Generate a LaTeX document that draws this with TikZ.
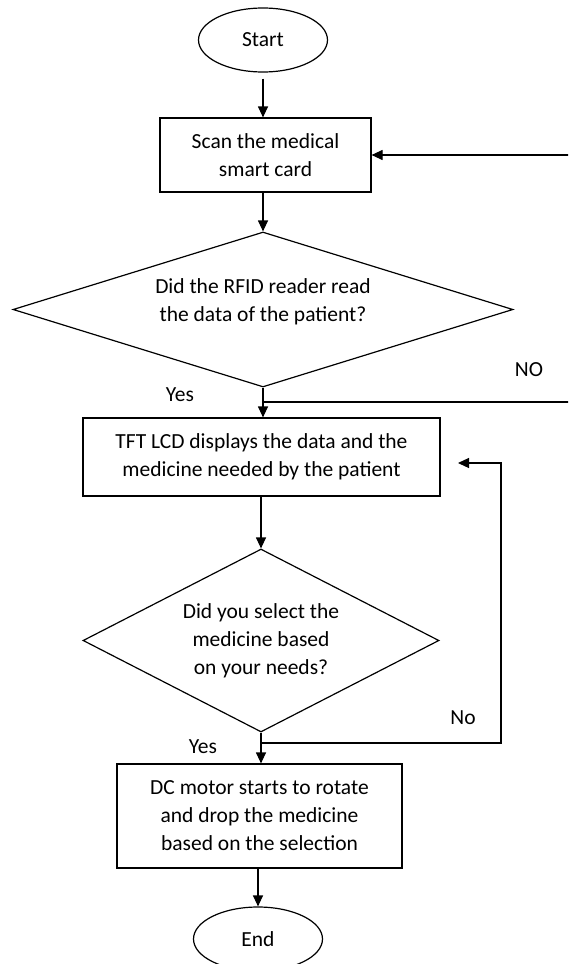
\documentclass[tikz,border=0pt]{standalone}
\usepackage{fontspec}
\setmainfont{Carlito}
\usetikzlibrary{shapes.geometric,arrows.meta}
\newcommand\diafont{\fontsize{21.5}{28}\selectfont}
\tikzset{
  base/.style={draw, line width=1.2pt, font=\diafont, align=center},
  term/.style={base, ellipse, minimum width=129pt, minimum height=64pt, inner sep=0pt},
  proc/.style={base, rectangle, inner sep=0pt},
  dec/.style={draw, line width=1.2pt, diamond, inner sep=0pt},
  lbl/.style={font=\diafont, align=center, inner sep=0pt},
  arr/.style={line width=1.2pt, -{Triangle[length=11pt,width=10pt]}},
  ln/.style={line width=1.2pt}
}
\begin{document}
\begin{tikzpicture}[x=1pt,y=-1pt]
\useasboundingbox (0,0) rectangle (568,964);
\clip (0,0) rectangle (568,964);
\fill[white] (0,0) rectangle (568,964);

\node[term] (start) at (263,40) {Start};
\node[proc, minimum width=211pt, minimum height=74pt] (b1) at (265.5,155) {Scan the medical\\smart card};
\node[dec, minimum width=500pt, minimum height=155pt] (d1) at (263,309.5) {};
\node[lbl] (d1t) at (263,302) {Did the RFID reader read\\the data of the patient?};
\node[proc, minimum width=357pt, minimum height=78pt] (b2) at (261.5,457) {TFT LCD displays the data and the\\medicine needed by the patient};
\node[dec, minimum width=356pt, minimum height=183pt] (d2) at (261,640.5) {};
\node[lbl] (d2t) at (261,641) {Did you select the\\medicine based\\on your needs?};
\node[proc, minimum width=285pt, minimum height=104pt] (b3) at (259.5,816) {DC motor starts to rotate\\and drop the medicine\\based on the selection};
\node[term] (stop) at (258,939) {End};

\node[lbl] (no1) at (529,370) {NO};
\node[lbl] (yes1) at (180,395) {Yes};
\node[lbl] (no2) at (463,718) {No};
\node[lbl] (yes2) at (203,747) {Yes};

\draw[arr] ([yshift=-6pt]start.south) -- (start.south |- b1.north);
\draw[arr] (d1.north |- b1.south) -- (d1.north);
\draw[arr] (d1.south) -- (d1.south |- b2.north);
\draw[arr] (d2.north |- b2.south) -- (d2.north);
\draw[arr] (d2.south) -- (d2.south |- b3.north);
\draw[arr] (stop.north |- b3.south) -- (stop.north);

\coordinate (j1) at (263,402);
\coordinate (r1) at (575,402);
\draw[arr] (j1) -- (r1) |- (b1.east);

\coordinate (j2) at (261,743);
\coordinate (r2) at (501,463);
\coordinate (t2) at (458,463);
\draw[arr] (j2) -| (r2) -- (t2);
\end{tikzpicture}
\end{document}
